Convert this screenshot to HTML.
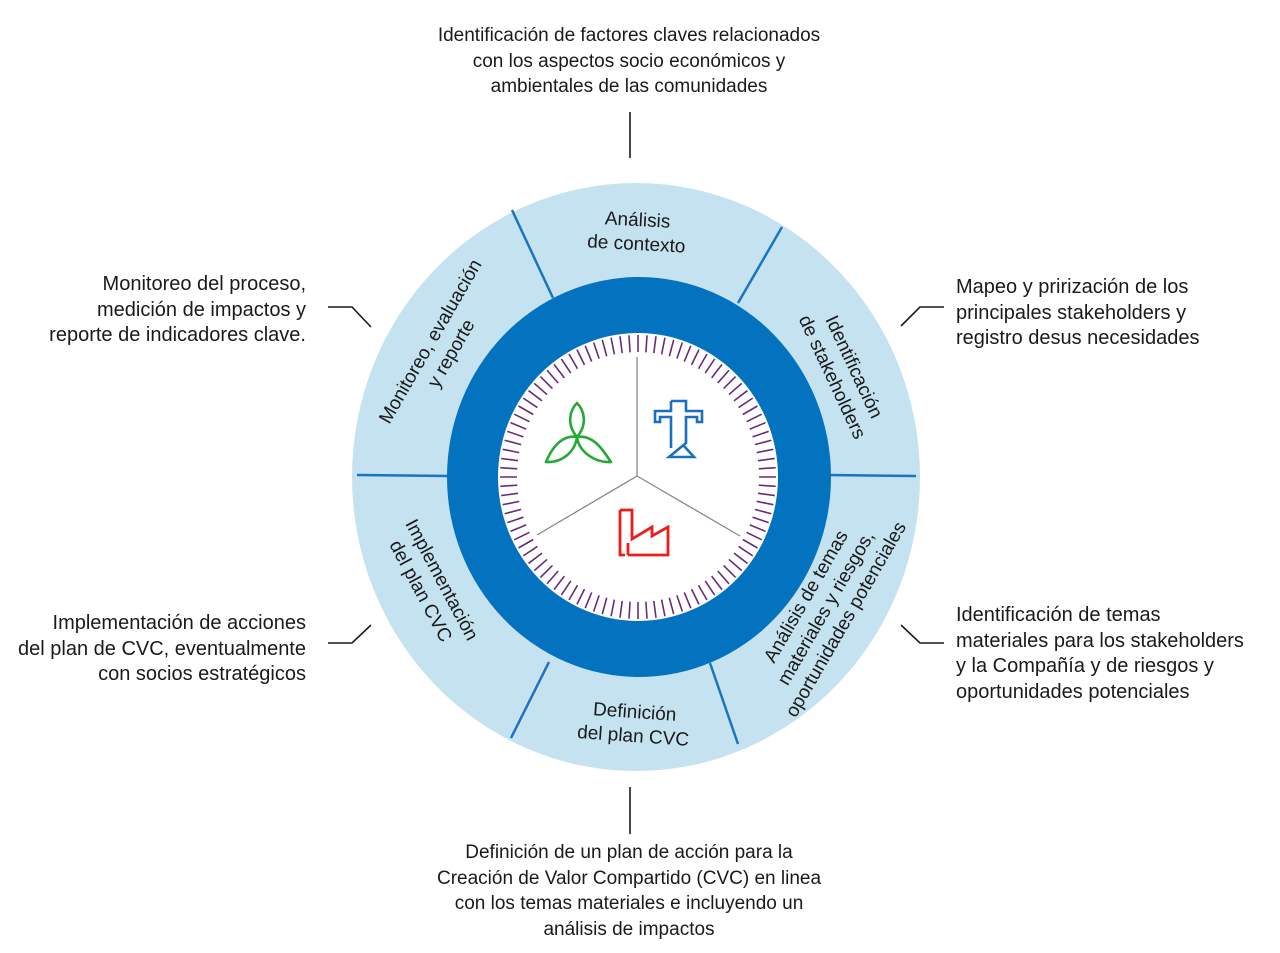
<!DOCTYPE html>
<html><head><meta charset="utf-8"><style>
html,body{margin:0;padding:0;background:#fff;}
body{width:1280px;height:953px;position:relative;overflow:hidden;font-family:"Liberation Sans",sans-serif;color:#1a1a1a;}
.t{position:absolute;font-size:19px;line-height:25.5px;white-space:nowrap;}
.s{font-size:20px;letter-spacing:0;}
svg{position:absolute;left:0;top:0;}
</style></head><body>
<svg width="1280" height="953" viewBox="0 0 1280 953">
<ellipse cx="636" cy="477" rx="284" ry="294" fill="#c5e2f1"/>
<g stroke="#1a74bf" stroke-width="2.5">
<line x1="512" y1="210" x2="553" y2="298"/>
<line x1="782" y1="227" x2="738" y2="303"/>
<line x1="357" y1="475" x2="450" y2="476"/>
<line x1="828" y1="475" x2="916" y2="476"/>
<line x1="511" y1="738" x2="549" y2="662"/>
<line x1="738" y1="744" x2="710" y2="663"/>
</g>
<ellipse cx="639" cy="477" rx="192" ry="200" fill="#0473bf"/>
<ellipse cx="638" cy="477" rx="140" ry="144" fill="#fff"/>
<g id="ticks" stroke="#6b2a7a" stroke-width="1.6"></g>
<g stroke="#888" stroke-width="1.3">
<line x1="637" y1="476" x2="637" y2="357"/>
<line x1="637" y1="476" x2="537" y2="535"/>
<line x1="637" y1="476" x2="740" y2="536"/>
</g>
<g fill="none" stroke="#22aa33" stroke-width="2.6" stroke-linejoin="round">
<path d="M577,437 C566,424 570,410 577,403 C584,410 588,424 577,437 Z"/>
<path d="M577,437 C560,434 550,452 546,462 C562,463 575,452 577,437 Z"/>
<path d="M577,437 C594,434 604,452 611,462 C595,463 579,452 577,437 Z"/>
</g>
<path fill="none" stroke="#1a6fc0" stroke-width="2.6" stroke-linejoin="miter" d="M671,401 H686 V411 H702 V422 H697 V417 H686 V443 L669,457 H694 L684,446 M671,401 V411 H655 V422 H660 V417 H671 V448"/>
<path fill="none" stroke="#ee1c1c" stroke-width="2.8" stroke-linejoin="miter" d="M620,510 V555 H625 M628,555 H668 V527 L652,536 V527 L632,539 V510 H620 M628,555 V543"/>
<g stroke="#1a1a1a" stroke-width="1.6" fill="none">
<line x1="630" y1="112" x2="630" y2="158"/>
<line x1="630" y1="787" x2="630" y2="834"/>
<polyline points="328,307 352,307 371,327"/>
<polyline points="944,307 920,307 901,326"/>
<polyline points="328,643 352,643 371,625"/>
<polyline points="944,643 920,643 901,625"/>
</g>
<g font-family="Liberation Sans, sans-serif" font-size="19" fill="#1a1a1a" text-anchor="middle">
<text transform="translate(637,232) rotate(3)"><tspan x="0" y="-6">Análisis</tspan><tspan x="0" y="18">de contexto</tspan></text>
<text transform="translate(843,372) rotate(65)"><tspan x="0" y="-6">Identificación</tspan><tspan x="0" y="18">de stakeholders</tspan></text>
<text transform="translate(826,608) rotate(-60)"><tspan x="0" y="-17">Análisis de temas</tspan><tspan x="0" y="6">materiales y riesgos,</tspan><tspan x="0" y="29">oportunidades potenciales</tspan></text>
<text transform="translate(634,723) rotate(4)"><tspan x="0" y="-5">Definición</tspan><tspan x="0" y="19">del plan CVC</tspan></text>
<text transform="translate(432,585) rotate(62)"><tspan x="0" y="-5">Implementación</tspan><tspan x="0" y="19">del plan CVC</tspan></text>
<text transform="translate(440,347) rotate(-60)"><tspan x="0" y="-5">Monitoreo, evaluación</tspan><tspan x="0" y="19">y reporte</tspan></text>
</g>
</svg>
<div class="t" style="left:329px;width:600px;text-align:center;top:23px;">Identificación de factores claves relacionados<br>con los aspectos socio económicos y<br>ambientales de las comunidades</div>
<div class="t s" style="right:974px;text-align:right;top:272px;">Monitoreo del proceso,<br>medición de impactos y<br>reporte de indicadores clave.</div>
<div class="t s" style="left:956px;top:275px;">Mapeo y prirización de los<br>principales stakeholders y<br>registro desus necesidades</div>
<div class="t s" style="right:974px;text-align:right;top:611px;">Implementación de acciones<br>del plan de CVC, eventualmente<br>con socios estratégicos</div>
<div class="t s" style="left:956px;top:603px;">Identificación de temas<br>materiales para los stakeholders<br>y la Compañía y de riesgos y<br>oportunidades potenciales</div>
<div class="t" style="left:329px;width:600px;text-align:center;top:840px;">Definición de un plan de acción para la<br>Creación de Valor Compartido (CVC) en linea<br>con los temas materiales e incluyendo un<br>análisis de impactos</div>
<script>
var g=document.getElementById('ticks'),s='';
for(var i=0;i<96;i++){var a=i*Math.PI*2/96,c=Math.cos(a),d=Math.sin(a);
s+='<line x1="'+(638+c*121)+'" y1="'+(477+d*125)+'" x2="'+(638+c*138)+'" y2="'+(477+d*142)+'"/>';}
g.innerHTML=s;
</script>
</body></html>
